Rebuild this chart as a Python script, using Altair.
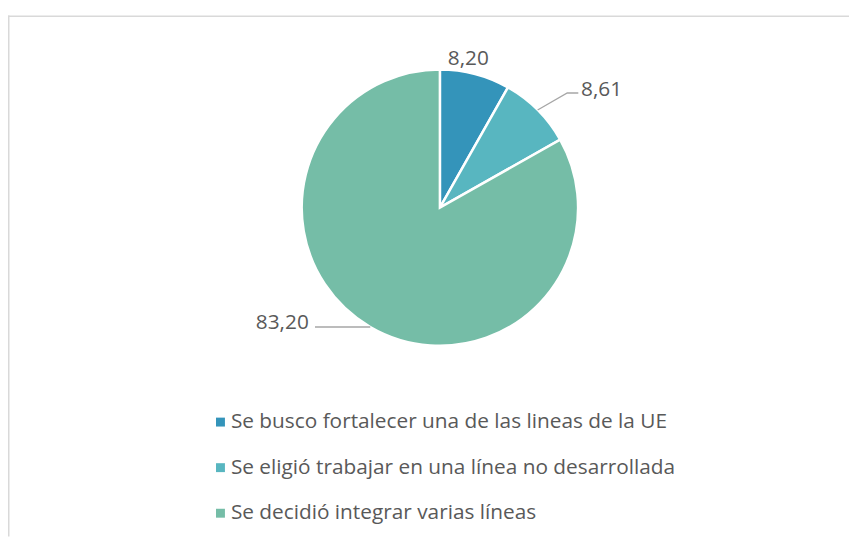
import math
import altair as alt
import pandas as pd

# ---- data ----
categories = [
    "Se busco fortalecer una de las lineas de la UE",
    "Se eligió trabajar en una línea no desarrollada",
    "Se decidió integrar varias líneas",
]
values = [8.20, 8.61, 83.20]
value_labels = ["8,20", "8,61", "83,20"]
colors = ["#3494BA", "#58B6C0", "#75BDA7"]

# ---- layout / style ----
W, H = 849, 526
CX, CY, R = 436, 194, 139.5
TEXT = "#595959"
FONT = "Open Sans"

xscale = alt.Scale(domain=[-CX / R, (W - CX) / R], nice=False, zero=False)
yscale = alt.Scale(domain=[-(H - CY) / R, CY / R], nice=False, zero=False)

total = sum(values)
mids = []
acc = 0.0
for v in values:
    mids.append((acc + v / 2) / total * 360.0)
    acc += v


def pt(angle_deg, r):
    a = math.radians(angle_deg)
    return r * math.sin(a), r * math.cos(a)


pie_df = pd.DataFrame({
    "cat": categories,
    "value": values,
    "order": list(range(len(values))),
    "cx": [0.0] * len(values),
    "cy": [0.0] * len(values),
})

# label 1: no leader
lx1, ly1 = pt(mids[0] - 4, 1.1)
# label 2: leader with elbow
p0 = pt(mids[1], 1.0)
p1 = pt(mids[1] + 3, 1.24)
p2 = (p1[0] + 0.08, p1[1])
# label 3: horizontal leader
q0 = pt(mids[2], 1.0)
q1 = (q0[0] - 0.4, q0[1])

lines_df = pd.DataFrame({
    "g": [1, 1, 1, 2, 2],
    "s": [0, 1, 2, 0, 1],
    "x": [p0[0], p1[0], p2[0], q0[0], q1[0]],
    "y": [p0[1], p1[1], p2[1], q0[1], q1[1]],
})

lab_c = pd.DataFrame({"x": [lx1], "y": [ly1], "t": [value_labels[0]]})
lab_l = pd.DataFrame({"x": [p2[0] + 0.02], "y": [p2[1]], "t": [value_labels[1]]})
lab_r = pd.DataFrame({"x": [q1[0] - 0.045], "y": [q1[1]], "t": [value_labels[2]]})

X = lambda f: alt.X(f, type="quantitative", scale=xscale, axis=None)
Y = lambda f: alt.Y(f, type="quantitative", scale=yscale, axis=None)

pie = alt.Chart(pie_df).mark_arc(outerRadius=R, stroke="white", strokeWidth=2.5).encode(
    x=X("cx"),
    y=Y("cy"),
    theta=alt.Theta("value:Q", stack=True),
    order=alt.Order("order:Q"),
    color=alt.Color(
        "cat:N",
        scale=alt.Scale(domain=categories, range=colors),
        sort=categories,
        legend=alt.Legend(
            title=None,
            orient="none",
            legendX=204,
            legendY=400,
            direction="vertical",
            symbolType="square",
            symbolSize=81,
            symbolStrokeWidth=0,
            labelFont=FONT,
            labelFontSize=21,
            labelColor=TEXT,
            labelOffset=0,
            rowPadding=24,
            labelLimit=700,
        ),
    ),
)

leaders = alt.Chart(lines_df).mark_line(color="#a6a6a6", strokeWidth=1.3).encode(
    x=X("x"), y=Y("y"), detail="g:N", order="s:Q"
)

tc = alt.Chart(lab_c).mark_text(align="center", baseline="alphabetic", dy=7,
                                font=FONT, fontSize=21, color=TEXT).encode(
    x=X("x"), y=Y("y"), text="t:N")
tl = alt.Chart(lab_l).mark_text(align="left", baseline="alphabetic", dy=3,
                                font=FONT, fontSize=21, color=TEXT).encode(
    x=X("x"), y=Y("y"), text="t:N")
tr = alt.Chart(lab_r).mark_text(align="right", baseline="alphabetic", dy=2,
                                font=FONT, fontSize=21, color=TEXT).encode(
    x=X("x"), y=Y("y"), text="t:N")

frame_df = pd.DataFrame({"k": [0]})
top_rule = alt.Chart(frame_df).mark_rule(color="#d9d9d9", strokeWidth=1.5).encode(
    x=alt.value(0), x2=alt.value(W), y=alt.value(0.75))
left_rule = alt.Chart(frame_df).mark_rule(color="#d9d9d9", strokeWidth=1.5).encode(
    x=alt.value(0.75), y=alt.value(0), y2=alt.value(H))

chart = alt.layer(top_rule, left_rule, pie, leaders, tc, tl, tr).properties(
    width=W,
    height=H,
    padding={"top": 5, "left": 0, "right": 0, "bottom": 0},
    autosize=alt.AutoSizeParams(type="none"),
).configure_view(stroke=None)

chart.save("out.html", embed_options={"renderer": "svg", "actions": False})
